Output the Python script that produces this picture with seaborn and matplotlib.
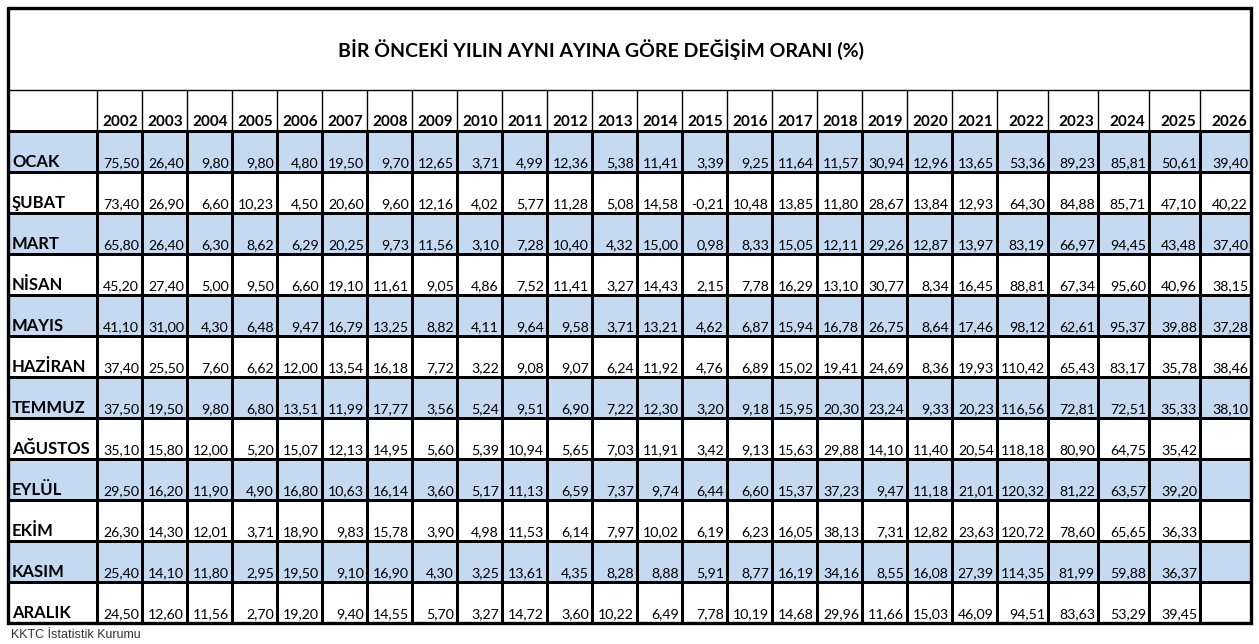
import numpy as np
import pandas as pd
import seaborn as sns
import matplotlib.pyplot as plt
from matplotlib.colors import ListedColormap

years = list(range(2002, 2027))
months = ['OCAK', 'ŞUBAT', 'MART', 'NİSAN', 'MAYIS', 'HAZİRAN', 'TEMMUZ',
          'AĞUSTOS', 'EYLÜL', 'EKİM', 'KASIM', 'ARALIK']

ocak = [75.50, 26.40, 9.80, 9.80, 4.80, 19.50, 9.70, 12.65, 3.71, 4.99, 12.36, 5.38, 11.41,
        3.39, 9.25, 11.64, 11.57, 30.94, 12.96, 13.65, 53.36, 89.23, 85.81, 50.61, 39.40]
subat = [73.40, 26.90, 6.60, 10.23, 4.50, 20.60, 9.60, 12.16, 4.02, 5.77, 11.28, 5.08, 14.58,
         -0.21, 10.48, 13.85, 11.80, 28.67, 13.84, 12.93, 64.30, 84.88, 85.71, 47.10, 40.22]
mart = [65.80, 26.40, 6.30, 8.62, 6.29, 20.25, 9.73, 11.56, 3.10, 7.28, 10.40, 4.32, 15.00,
        0.98, 8.33, 15.05, 12.11, 29.26, 12.87, 13.97, 83.19, 66.97, 94.45, 43.48, 37.40]
nisan = [45.20, 27.40, 5.00, 9.50, 6.60, 19.10, 11.61, 9.05, 4.86, 7.52, 11.41, 3.27, 14.43,
         2.15, 7.78, 16.29, 13.10, 30.77, 8.34, 16.45, 88.81, 67.34, 95.60, 40.96, 38.15]
mayis = [41.10, 31.00, 4.30, 6.48, 9.47, 16.79, 13.25, 8.82, 4.11, 9.64, 9.58, 3.71, 13.21,
         4.62, 6.87, 15.94, 16.78, 26.75, 8.64, 17.46, 98.12, 62.61, 95.37, 39.88, 37.28]
haziran = [37.40, 25.50, 7.60, 6.62, 12.00, 13.54, 16.18, 7.72, 3.22, 9.08, 9.07, 6.24, 11.92,
           4.76, 6.89, 15.02, 19.41, 24.69, 8.36, 19.93, 110.42, 65.43, 83.17, 35.78, 38.46]
temmuz = [37.50, 19.50, 9.80, 6.80, 13.51, 11.99, 17.77, 3.56, 5.24, 9.51, 6.90, 7.22, 12.30,
          3.20, 9.18, 15.95, 20.30, 23.24, 9.33, 20.23, 116.56, 72.81, 72.51, 35.33, 38.10]
agustos = [35.10, 15.80, 12.00, 5.20, 15.07, 12.13, 14.95, 5.60, 5.39, 10.94, 5.65, 7.03, 11.91,
           3.42, 9.13, 15.63, 29.88, 14.10, 11.40, 20.54, 118.18, 80.90, 64.75, 35.42, None]
eylul = [29.50, 16.20, 11.90, 4.90, 16.80, 10.63, 16.14, 3.60, 5.17, 11.13, 6.59, 7.37, 9.74,
         6.44, 6.60, 15.37, 37.23, 9.47, 11.18, 21.01, 120.32, 81.22, 63.57, 39.20, None]
ekim = [26.30, 14.30, 12.01, 3.71, 18.90, 9.83, 15.78, 3.90, 4.98, 11.53, 6.14, 7.97, 10.02,
        6.19, 6.23, 16.05, 38.13, 7.31, 12.82, 23.63, 120.72, 78.60, 65.65, 36.33, None]
kasim = [25.40, 14.10, 11.80, 2.95, 19.50, 9.10, 16.90, 4.30, 3.25, 13.61, 4.35, 8.28, 8.88,
         5.91, 8.77, 16.19, 34.16, 8.55, 16.08, 27.39, 114.35, 81.99, 59.88, 36.37, None]
aralik = [24.50, 12.60, 11.56, 2.70, 19.20, 9.40, 14.55, 5.70, 3.27, 14.72, 3.60, 10.22, 6.49,
          7.78, 10.19, 14.68, 29.96, 11.66, 15.03, 46.09, 94.51, 83.63, 53.29, 39.45, None]

df = pd.DataFrame([ocak, subat, mart, nisan, mayis, haziran, temmuz, agustos,
                   eylul, ekim, kasim, aralik], index=months, columns=years, dtype=float)

title = 'BİR ÖNCEKİ YILIN AYNI AYINA GÖRE DEĞİŞİM ORANI (%)'
source = 'KKTC İstatistik Kurumu'

sns.set_theme(style='white')
plt.rcParams['font.family'] = ['Lato', 'DejaVu Sans']

# layout in pixels
left, top = 8, 8
label_w = 89
col_w = [45] * 20 + [51, 50, 51, 51, 51]
title_h, header_h, row_h = 82, 41, 41

x_edges = np.concatenate([[left, left + label_w], left + label_w + np.cumsum(col_w)])
table_top = top + title_h + header_h
y_edges = table_top + row_h * np.arange(len(months) + 1)
right, bottom = x_edges[-1], y_edges[-1]

fig = plt.figure(figsize=(12.59, 6.44), dpi=100)
ax = fig.add_axes([0, 0, 1, 1])
ax.set_xlim(0, 1259)
ax.set_ylim(644, 0)
ax.axis('off')

# alternating row bands (label column included)
band = np.tile((np.arange(len(months)) % 2 == 0)[:, None], (1, len(years) + 1)).astype(float)
ax.pcolormesh(x_edges, y_edges, band, cmap=ListedColormap(['white', '#C5D9F1']),
              edgecolor='black', linewidth=1.0)

# header row lines
ax.vlines(x_edges[1:-1], top + title_h, table_top, color='black', lw=1.0)
ax.hlines([top + title_h, table_top], left, right, color='black', lw=1.0)

# outer frame
ax.plot([left, right, right, left, left], [top, top, bottom, bottom, top],
        color='black', lw=2.4, solid_joinstyle='miter')

ax.text(601, top + title_h / 2 + 1, title, ha='center', va='center',
        fontsize=14, fontweight='bold', color='black')

for j, yr in enumerate(years):
    ax.text(x_edges[j + 2] - 4, table_top - 5, str(yr), ha='right', va='baseline',
            fontsize=11, fontweight='bold', color='black')

for i, m in enumerate(months):
    base = y_edges[i + 1] - 5
    ax.text(left + 4, base, m, ha='left', va='baseline', fontsize=12,
            fontweight='bold', color='black')
    for j, yr in enumerate(years):
        v = df.loc[m, yr]
        if np.isnan(v):
            continue
        ax.text(x_edges[j + 2] - 3, base, f'{v:.2f}'.replace('.', ','), ha='right',
                va='baseline', fontsize=10.2, color='black')

ax.text(left + 3, 635, source, ha='left', va='center', fontsize=9,
        family=['Liberation Sans', 'DejaVu Sans'], color='#333333')

fig.savefig('out.png', dpi=100)
